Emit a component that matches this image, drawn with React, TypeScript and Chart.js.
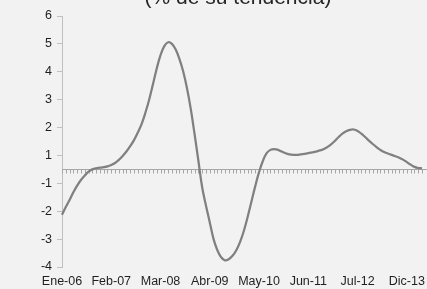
import React, { useEffect, useRef } from "react";
import { Chart, registerables } from "chart.js";

Chart.register(...registerables);

const MONTHS = ["Ene", "Feb", "Mar", "Abr", "May", "Jun", "Jul", "Ago", "Sep", "Oct", "Nov", "Dic"];
const YEARS = ["06", "07", "08", "09", "10", "11", "12", "13"];
const categories = YEARS.flatMap((y) => MONTHS.map((m) => `${m}-${y}`));

const xTickLabels = ["Ene-06", "Feb-07", "Mar-08", "Abr-09", "May-10", "Jun-11", "Jul-12", "Dic-13"];
const X_TICK_EVERY = 13;

const yTickValues = [-3.5, -2.5, -1.5, -0.5, 0.5, 1.5, 2.5, 3.5, 4.5, 5.5];
const yTickLabels = ["-4", "-3", "-2", "-1", "1", "2", "3", "4", "5", "6"];

const titleText = "(% de su tendencia)";

const values = [
  -1.63, -1.35, -1.1, -0.82, -0.58, -0.38, -0.22, -0.08, 0.0, 0.04,
  0.06, 0.08, 0.11, 0.16, 0.23, 0.34, 0.48, 0.64, 0.83, 1.05,
  1.32, 1.62, 2.03, 2.5, 3.05, 3.62, 4.1, 4.42, 4.56, 4.5,
  4.3, 3.95, 3.5, 2.9, 2.15, 1.25, 0.3, -0.65, -1.3, -1.9,
  -2.5, -2.9, -3.15, -3.26, -3.22, -3.1, -2.9, -2.6, -2.2, -1.7,
  -1.15, -0.6, -0.1, 0.3, 0.58, 0.7, 0.73, 0.7, 0.64, 0.58,
  0.54, 0.52, 0.52, 0.54, 0.56, 0.58, 0.61, 0.64, 0.68, 0.72,
  0.8, 0.9, 1.02, 1.16, 1.28, 1.37, 1.42, 1.43, 1.38, 1.28,
  1.16, 1.03, 0.91, 0.8, 0.7, 0.62, 0.57, 0.52, 0.47, 0.42,
  0.35, 0.26, 0.17, 0.09, 0.05, 0.04,
];

const FONT = "'Liberation Sans', Arial, sans-serif";

const zeroLinePlugin = {
  id: "zeroLine",
  beforeDatasetsDraw(chart: any) {
    const { ctx, chartArea, scales } = chart;
    const y0 = Math.round(scales.y.getPixelForValue(0)) + 0.5;
    ctx.save();
    ctx.strokeStyle = "#a6a6a6";
    ctx.lineWidth = 1;
    ctx.beginPath();
    ctx.moveTo(chartArea.left, y0);
    ctx.lineTo(chartArea.right + 6, y0);
    for (let i = 0; i < categories.length; i++) {
      const x = Math.round(scales.x.getPixelForValue(i)) + 0.5;
      ctx.moveTo(x, y0);
      ctx.lineTo(x, y0 + 4);
    }
    ctx.stroke();
    ctx.restore();
  },
};

const titlePlugin = {
  id: "cutTitle",
  afterDraw(chart: any) {
    const { ctx } = chart;
    ctx.save();
    ctx.fillStyle = "#262626";
    ctx.font = `21px ${FONT}`;
    ctx.textAlign = "center";
    ctx.textBaseline = "alphabetic";
    ctx.fillText(titleText, 238, 4);
    ctx.restore();
  },
};

export default function App() {
  const ref = useRef<HTMLCanvasElement | null>(null);

  useEffect(() => {
    if (!ref.current) return;
    const chart = new Chart(ref.current, {
      type: "line",
      data: {
        labels: categories,
        datasets: [
          {
            data: values,
            borderColor: "#808080",
            borderWidth: 2.25,
            pointRadius: 0,
            tension: 0.4,
            fill: false,
          },
        ],
      },
      options: {
        animation: false,
        responsive: false,
        devicePixelRatio: 1,
        layout: { padding: { top: 16, right: 5, bottom: 0, left: 0 } },
        plugins: {
          legend: { display: false },
          title: { display: false },
          tooltip: { enabled: false },
        },
        scales: {
          x: {
            type: "category",
            offset: false,
            grid: { display: false, drawTicks: false },
            border: { display: false },
            afterBuildTicks: (scale: any) => {
              scale.ticks = scale.ticks.filter((t: any) => t.value % X_TICK_EVERY === 0);
            },
            afterFit: (scale: any) => {
              scale.height = 22;
              scale.paddingLeft = 0;
              scale.paddingRight = 0;
            },
            ticks: {
              autoSkip: false,
              maxRotation: 0,
              minRotation: 0,
              padding: 7,
              color: "#1f1f1f",
              font: { family: FONT, size: 12.5 },
              callback: (_v: any, i: number) => xTickLabels[i] ?? "",
            },
          },
          y: {
            type: "linear",
            min: -3.5,
            max: 5.5,
            afterBuildTicks: (scale: any) => {
              scale.ticks = yTickValues.map((v) => ({ value: v }));
            },
            afterFit: (scale: any) => {
              scale.width = 62;
              scale.paddingTop = 0;
              scale.paddingBottom = 0;
            },
            grid: {
              display: true,
              drawOnChartArea: false,
              drawTicks: true,
              tickLength: 5,
              color: "#bfbfbf",
            },
            border: { display: true, color: "#bfbfbf", width: 1 },
            ticks: {
              padding: 5,
              color: "#1f1f1f",
              font: { family: FONT, size: 12.5 },
              callback: (_v: any, i: number) => yTickLabels[i],
            },
          },
        },
      },
      plugins: [zeroLinePlugin, titlePlugin],
    });
    return () => chart.destroy();
  }, []);

  return (
    <div
      style={{
        position: "fixed",
        left: 0,
        top: 0,
        width: 427,
        height: 289,
        background: "#f2f2f2",
      }}
    >
      <canvas ref={ref} width={427} height={289} style={{ width: 427, height: 289, display: "block" }} />
    </div>
  );
}
